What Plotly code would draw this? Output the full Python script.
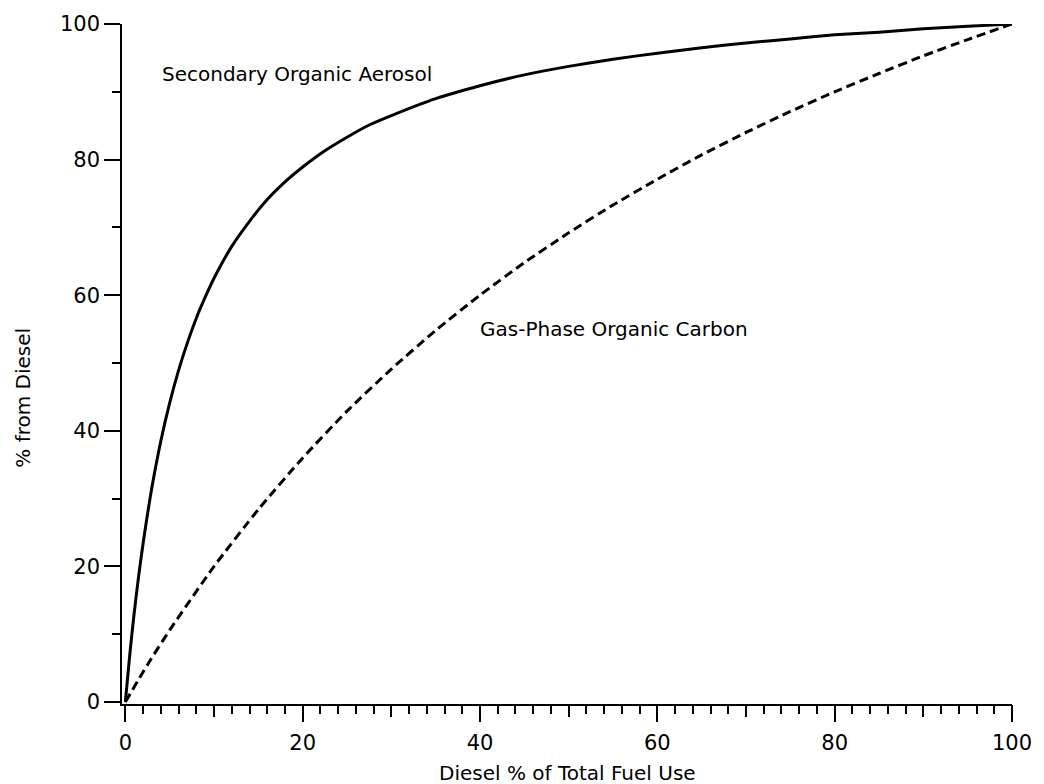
import plotly.graph_objects as go

# Diesel % of total fuel use (x) and % of each quantity attributable to diesel (y)
soa_x = [0, 0.5, 1, 1.5, 2, 3, 4, 5, 6, 7, 8, 9, 10, 12, 14, 16, 18, 20, 22.5, 25,
         27.5, 30, 35, 40, 45, 50, 55, 60, 65, 70, 75, 80, 85, 90, 95, 100]
soa_y = [0, 7.0, 13.2, 18.6, 23.4, 31.7, 38.5, 44.1, 48.9, 53.0, 56.6, 59.7, 62.5,
         67.2, 70.9, 74.1, 76.7, 78.9, 81.3, 83.3, 85.1, 86.5, 89.0, 90.9, 92.5,
         93.75, 94.8, 95.7, 96.5, 97.2, 97.8, 98.4, 98.8, 99.3, 99.65, 100]

gpoc_x = [0, 2.5, 5, 10, 15, 20, 25, 30, 35, 40, 45, 50, 55, 60, 65, 70, 75, 80,
          85, 90, 95, 100]
gpoc_y = [0, 5.5, 10.6, 20.0, 28.4, 36.0, 42.9, 49.1, 54.8, 60.0, 64.8, 69.2, 73.3,
          77.1, 80.7, 84.0, 87.1, 90.0, 92.7, 95.3, 97.7, 100]

x_ticks = [0, 20, 40, 60, 80, 100]
y_ticks = [0, 20, 40, 60, 80, 100]

label_soa = "Secondary Organic Aerosol"
label_gpoc = "Gas-Phase Organic Carbon"
x_title = "Diesel % of Total Fuel Use"
y_title = "% from Diesel"

FONT = "DejaVu Sans"

fig = go.Figure()
fig.add_trace(go.Scatter(x=soa_x, y=soa_y, mode="lines", name=label_soa,
                         line=dict(color="black", width=3, shape="spline", smoothing=0.6)))
fig.add_trace(go.Scatter(x=gpoc_x, y=gpoc_y, mode="lines", name=label_gpoc,
                         line=dict(color="black", width=3, dash="9px,5px",
                                   shape="spline", smoothing=0.6)))
# empty trace to carry the secondary (mid-length tick) axis
fig.add_trace(go.Scatter(x=[], y=[], xaxis="x2", yaxis="y", showlegend=False,
                         hoverinfo="skip"))

fig.add_annotation(x=3.9, y=92.6, text=label_soa, showarrow=False,
                   xanchor="left", yanchor="middle",
                   font=dict(family=FONT, size=20, color="black"))
fig.add_annotation(x=39.8, y=55.0, text=label_gpoc, showarrow=False,
                   xanchor="left", yanchor="middle",
                   font=dict(family=FONT, size=20, color="black"))

# axis titles as paper-positioned annotations
fig.add_annotation(x=0.5, y=-0.101, xref="paper", yref="paper", text=x_title,
                   showarrow=False, xanchor="center", yanchor="middle",
                   font=dict(family=FONT, size=20, color="black"))
fig.add_annotation(x=-0.1116, y=0.45, xref="paper", yref="paper", text=y_title,
                   showarrow=False, xanchor="center", yanchor="middle", textangle=-90,
                   font=dict(family=FONT, size=20, color="black"))

fig.update_layout(
    width=1044, height=784,
    margin=dict(l=122, r=26, t=22, b=80),
    paper_bgcolor="white", plot_bgcolor="white",
    showlegend=False,
    font=dict(family=FONT, size=20, color="black"),
    xaxis=dict(
        range=[-0.38, 100], showgrid=False, zeroline=False,
        showline=True, linecolor="black", linewidth=1.5,
        ticks="outside", ticklen=16, tickwidth=1.5, tickcolor="black",
        tickvals=x_ticks, ticktext=[str(v) for v in x_ticks],
        tickfont=dict(family=FONT, size=21), ticklabelstandoff=3,
        minor=dict(ticks="outside", dtick=2, tick0=0, ticklen=8,
                   tickwidth=1.5, tickcolor="black", showgrid=False),
    ),
    xaxis2=dict(
        range=[-0.38, 100], overlaying="x", side="bottom", anchor="y",
        showgrid=False, zeroline=False, showline=False,
        ticks="outside", ticklen=12, tickwidth=1.5, tickcolor="black",
        dtick=10, tick0=0, showticklabels=False,
    ),
    yaxis=dict(
        range=[-0.3, 100], showgrid=False, zeroline=False,
        showline=True, linecolor="black", linewidth=1.5,
        ticks="outside", ticklen=16, tickwidth=1.5, tickcolor="black",
        tickvals=y_ticks, ticktext=[str(v) for v in y_ticks],
        tickfont=dict(family=FONT, size=21),
        minor=dict(ticks="outside", dtick=10, tick0=0, ticklen=8,
                   tickwidth=1.5, tickcolor="black", showgrid=False),
    ),
)

fig.write_html("out.html")
